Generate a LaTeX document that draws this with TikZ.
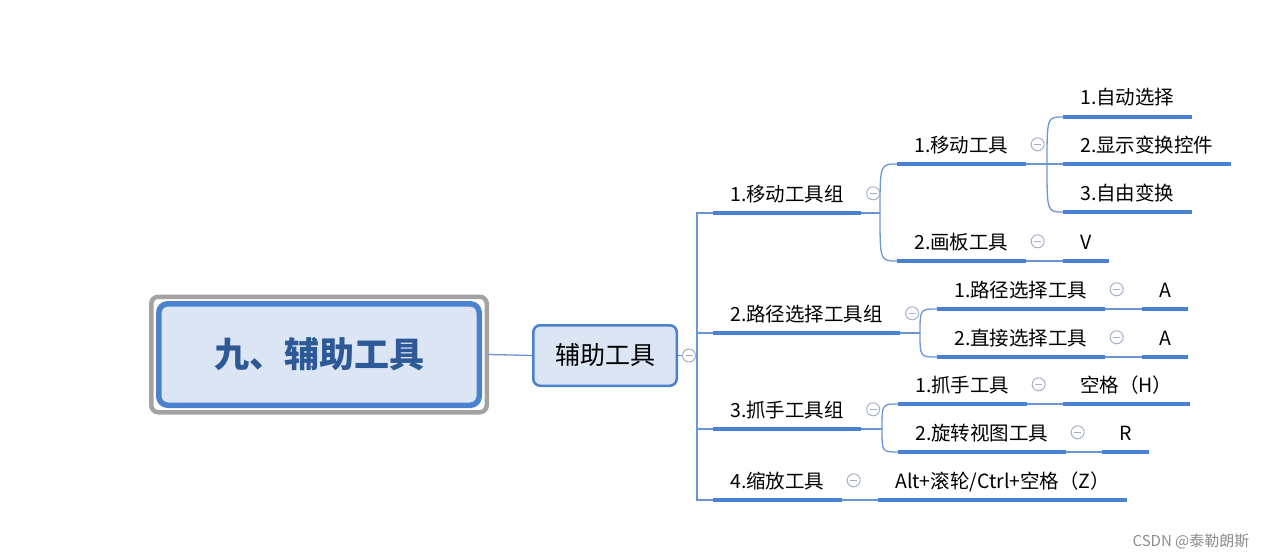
\documentclass[tikz,border=0pt]{standalone}
\usepackage{fontspec}
\usepackage{xcolor}
\usepackage{tikz}
\usetikzlibrary{arrows.meta,positioning,calc}
\newfontfamily\cjk{Noto Sans CJK SC}
\definecolor{mapblue}{HTML}{4A82D0}
\definecolor{linkblue}{HTML}{6A96D8}
\definecolor{boxfill}{HTML}{DCE5F4}
\definecolor{titleblue}{HTML}{2D5A96}
\definecolor{selgray}{HTML}{A3A3A3}
\definecolor{foldgray}{HTML}{A7AECB}
\tikzset{
  rootbox/.style={rectangle,rounded corners=9pt,draw=mapblue,line width=5.5pt,fill=boxfill,minimum width=320.5pt,minimum height=101.5pt,font=\cjk\bfseries\fontsize{35}{35}\selectfont,text=titleblue},
  selbox/.style={rectangle,rounded corners=7pt,draw=selgray,line width=4.5pt,minimum width=335.5pt,minimum height=115.5pt},
  subbox/.style={rectangle,rounded corners=7pt,draw=mapblue,line width=2.5pt,fill=boxfill,minimum width=143.5pt,minimum height=60.5pt,font=\cjk\fontsize{25}{25}\selectfont},
  topic/.style={anchor=south west,inner xsep=17pt,inner ysep=8.8pt,text height=18.4pt,text depth=3pt,font=\cjk\fontsize{19.5}{19.5}\selectfont},
  uline/.style={draw=mapblue,line width=4pt},
  link/.style={draw=linkblue,line width=1.3pt},
  fold/.style={circle,draw=foldgray,fill=white,line width=1pt,inner sep=0pt,minimum size=13pt,
    path picture={\draw[foldgray,line width=1pt] ([xshift=-3.5pt]path picture bounding box.center) -- ([xshift=3.5pt]path picture bounding box.center);}},
  wmark/.style={font=\cjk\fontsize{15}{15}\selectfont,text=black!45}
}
\begin{document}
\begin{tikzpicture}[x=1pt,y=-1pt]
  \useasboundingbox (0,0) rectangle (1276,559);
  \node[selbox] (sel) at (319,354.5) {};
  \node[rootbox] (main) at (319,354.5) {九、辅助工具};
  \node[subbox] (aux) at (605,355.5) {辅助工具};

  \node[topic] (g1) at (713,213) {1.移动工具组};
  \node[topic] (g2) at (713,333) {2.路径选择工具组};
  \node[topic] (g3) at (713,429) {3.抓手工具组};
  \node[topic] (g4) at (713,500) {4.缩放工具};

  \node[topic] (t11) at (897,164) {1.移动工具};
  \node[topic] (t12) at (897,261) {2.画板工具};
  \node[topic] (t21) at (937,309) {1.路径选择工具};
  \node[topic] (t22) at (937,357) {2.直接选择工具};
  \node[topic] (t31) at (898,404) {1.抓手工具};
  \node[topic] (t32) at (898,452) {2.旋转视图工具};
  \node[topic] (k4) at (878,500) {Alt+滚轮/Ctrl+空格（Z）};

  \node[topic] (k111) at (1063,117) {1.自动选择};
  \node[topic] (k112) at (1063,164) {2.显示变换控件};
  \node[topic] (k113) at (1063,212) {3.自由变换};
  \node[topic] (k12) at (1063,261) {V};
  \node[topic] (k21) at (1142,309) {A};
  \node[topic] (k22) at (1142,357) {A};
  \node[topic] (k31) at (1063,404) {空格（H）};
  \node[topic] (k32) at (1102,452) {R};

  \coordinate (tr) at (697,355.5);
  \coordinate (b1) at (880,213);
  \coordinate (b2) at (920,333);
  \coordinate (b3) at (882,429);
  \coordinate (b11) at (1047,164);

  \draw[link] (main.east -| sel.east) -- (aux.west);
  \draw[link] (aux.east) -- (tr);
  \foreach \g in {g1,g2,g3,g4}
    \draw[link] (tr) |- (\g.south west);
  \draw[link] (g1.south east) -- (b1);
  \draw[link] (g2.south east) -- (b2);
  \draw[link] (g3.south east) -- (b3);
  \draw[link] (t11.south east) -- (b11);
  \foreach \b/\c in {b1/t11,b1/t12,b2/t21,b2/t22,b3/t31,b3/t32,b11/k111,b11/k112,b11/k113}
    \draw[link] (\b) .. controls (\b |- \c.south west) .. (\c.south west);
  \foreach \p/\c in {t12/k12,t21/k21,t22/k22,t31/k31,t32/k32,g4/k4}
    \draw[link] (\p.south east) -- (\c.south west);

  \foreach \n in {g1,g2,g3,g4,t11,t12,t21,t22,t31,t32,k4,k111,k112,k113,k12,k21,k22,k31,k32}
    \draw[uline] (\n.south west) -- (\n.south east);

  \node[fold] (faux) at ([xshift=11pt]aux.east) {};
  \foreach \n in {g1,g2,g3,g4,t11,t12,t21,t22,t31,t32}
    \node[fold] (f\n) at ([xshift=12pt]\n.east) {};

  \node[wmark] (wm) at (1191,541) {CSDN @泰勒朗斯};
\end{tikzpicture}
\end{document}
